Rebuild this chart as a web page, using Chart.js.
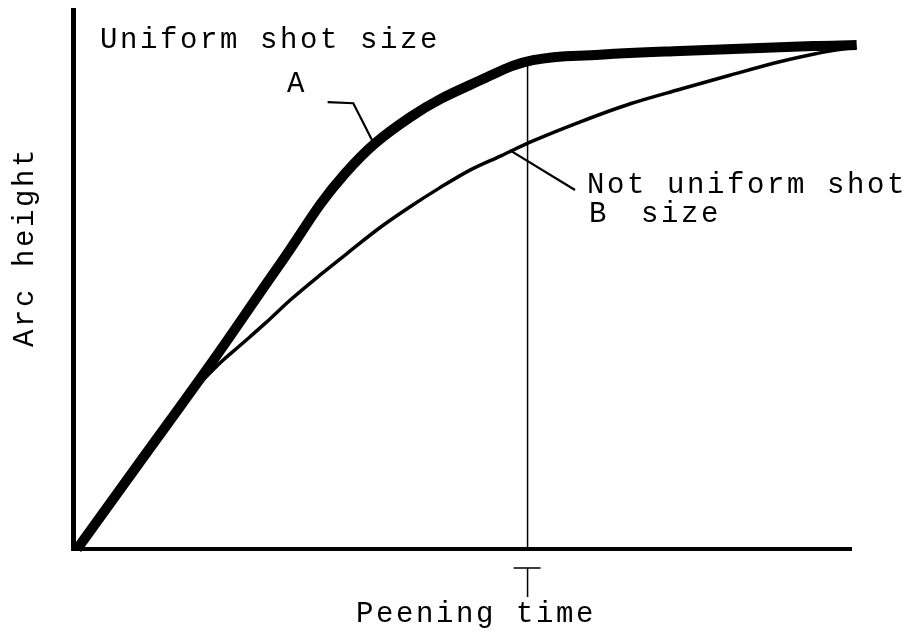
<!DOCTYPE html>
<html>
<head>
<meta charset="utf-8">
<script src="https://cdn.jsdelivr.net/npm/chart.js@4.4.1/dist/chart.umd.min.js"></script>
<style>
  html, body { margin: 0; padding: 0; background: #fff; }
  #wrap { width: 909px; height: 634px; }
</style>
</head>
<body>
<div id="wrap"><canvas id="c" width="909" height="634"></canvas></div>
<script>
// Peening time (x) and arc height (y), arbitrary units 0..100
const curveA_time   = [0.4, 8.1, 17.9, 26.5, 34.8, 43.2, 53.2, 59.0, 67.6, 77.9, 95.0, 100.6];
const curveA_height = [0,   15.4, 35.0, 52.9, 69.6, 80.1, 87.6, 90.7, 91.7, 92.4, 93.3, 93.5];

const curveB_time   = [0.4, 8.1, 13.6, 18.4, 21.3, 24.6, 27.8, 31.6, 35.5, 39.3, 43.2, 47.0, 50.9, 54.8, 59.0, 65.0, 71.5, 77.9, 84.3, 90.7, 95.0, 98.1, 100.6];
const curveB_height = [0,   15.4, 26.5, 34.0, 37.7, 41.9, 46.2, 50.8, 55.3, 59.6, 63.5, 67.0, 70.3, 72.9, 75.7, 79.2, 82.6, 85.3, 87.9, 90.4, 91.8, 92.6, 93.1];

// Time T marker
const markerTime = 58.3;
const markerTop = 91.3;

// Leader lines for labels
const leaderA_time   = [32.6, 35.9, 38.3];
const leaderA_height = [82.9, 82.7, 75.9];
const leaderB_time   = [56.0, 64.4];
const leaderB_height = [74.0, 66.6];

// Text labels
const labelUniform = "Uniform shot size";
const labelA = "A";
const labelNotUniform = "Not uniform shot";
const labelB = "B";
const labelSize = "size";
const xTitle = "Peening time";
const yTitle = "Arc height";

const pts = (xs, ys) => xs.map((x, i) => ({ x: x, y: ys[i] }));

const whiteBg = {
  id: 'whiteBg',
  beforeDraw(chart) {
    const ctx = chart.ctx;
    ctx.save();
    ctx.fillStyle = '#fff';
    ctx.fillRect(0, 0, chart.width, chart.height);
    ctx.restore();
  }
};

const decor = {
  id: 'decor',
  beforeDatasetsDraw(chart) {
    const ctx = chart.ctx;
    const a = chart.chartArea;
    ctx.save();
    ctx.strokeStyle = '#000';
    ctx.lineCap = 'butt';
    // y axis
    ctx.lineWidth = 5;
    ctx.beginPath();
    ctx.moveTo(a.left - 0.5, a.top - 2);
    ctx.lineTo(a.left - 0.5, a.bottom + 2);
    ctx.stroke();
    // x axis
    ctx.lineWidth = 4;
    ctx.beginPath();
    ctx.moveTo(a.left - 3, a.bottom);
    ctx.lineTo(a.right, a.bottom);
    ctx.stroke();
    ctx.restore();
  },
  afterDraw(chart) {
    const ctx = chart.ctx;
    const xs = chart.scales.x;
    const a = chart.chartArea;
    ctx.save();
    ctx.strokeStyle = '#000';
    ctx.fillStyle = '#000';
    // "T" mark under the axis
    const mx = xs.getPixelForValue(markerTime);
    ctx.lineWidth = 1.5;
    ctx.beginPath();
    ctx.moveTo(mx - 14, a.bottom + 19);
    ctx.lineTo(mx + 13, a.bottom + 19);
    ctx.moveTo(mx, a.bottom + 19);
    ctx.lineTo(mx, a.bottom + 48);
    ctx.stroke();

    ctx.font = '29px "Liberation Mono", "DejaVu Sans Mono", monospace';
    try { ctx.letterSpacing = '2.6px'; } catch (e) {}
    ctx.textBaseline = 'alphabetic';
    ctx.textAlign = 'left';
    ctx.fillText(labelUniform, 100, 48);
    ctx.fillText(labelA, 287, 92);
    ctx.fillText(labelNotUniform, 587, 193);
    ctx.fillText(labelB, 589, 222);
    ctx.fillText(labelSize, 641, 222);
    ctx.fillText(xTitle, 356, 622);

    ctx.save();
    ctx.translate(33, 347);
    ctx.rotate(-Math.PI / 2);
    ctx.fillText(yTitle, 0, 0);
    ctx.restore();
    ctx.restore();
  }
};

new Chart(document.getElementById('c'), {
  type: 'line',
  data: {
    datasets: [
      {
        label: 'B',
        data: pts(curveB_time, curveB_height),
        borderColor: '#000',
        borderWidth: 3.5,
        cubicInterpolationMode: 'monotone',
        pointRadius: 0,
        fill: false,
        clip: false
      },
      {
        label: 'A',
        data: pts(curveA_time, curveA_height),
        borderColor: '#000',
        borderWidth: 10,
        tension: 0.4,
        pointRadius: 0,
        fill: false,
        clip: false,
        borderCapStyle: 'butt',
        borderJoinStyle: 'round'
      },
      {
        label: 'T',
        data: [{ x: markerTime, y: 0 }, { x: markerTime, y: markerTop }],
        borderColor: '#000',
        borderWidth: 1.5,
        pointRadius: 0,
        clip: false
      },
      {
        label: 'leaderA',
        data: pts(leaderA_time, leaderA_height),
        borderColor: '#000',
        borderWidth: 2.2,
        pointRadius: 0,
        tension: 0,
        clip: false
      },
      {
        label: 'leaderB',
        data: pts(leaderB_time, leaderB_height),
        borderColor: '#000',
        borderWidth: 2.2,
        pointRadius: 0,
        tension: 0,
        clip: false
      }
    ]
  },
  options: {
    responsive: false,
    animation: false,
    maintainAspectRatio: false,
    layout: { padding: { left: 74, right: 57, top: 10, bottom: 85 } },
    plugins: { legend: { display: false }, tooltip: { enabled: false } },
    scales: {
      x: { type: 'linear', min: 0, max: 100, display: false },
      y: { type: 'linear', min: 0, max: 100, display: false }
    }
  },
  plugins: [whiteBg, decor]
});
</script>
</body>
</html>
